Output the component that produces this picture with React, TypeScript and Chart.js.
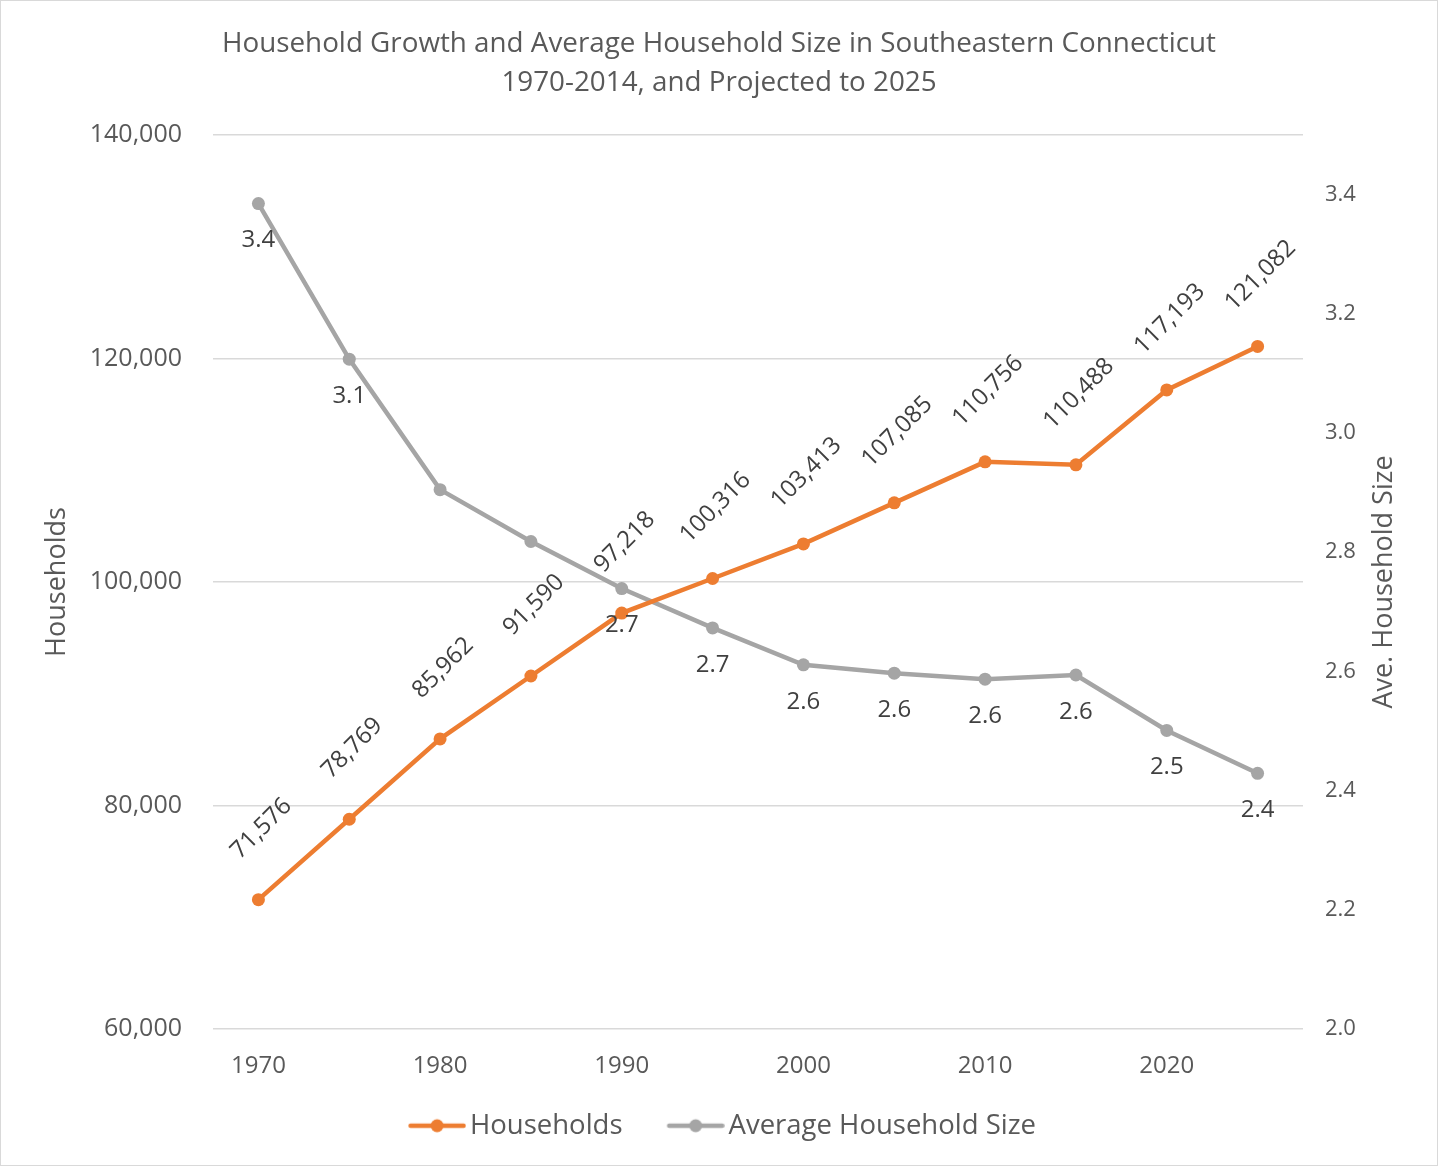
import React, { useEffect, useRef } from 'react';
import { Chart, registerables } from 'chart.js';

Chart.register(...registerables);

const years = ['1970', '1975', '1980', '1985', '1990', '1995', '2000', '2005', '2010', '2015', '2020', '2025'];
const households = [71576, 78769, 85962, 91590, 97218, 100316, 103413, 107085, 110756, 110488, 117193, 121082];
const avgSize = [3.385, 3.124, 2.905, 2.818, 2.739, 2.673, 2.611, 2.597, 2.587, 2.594, 2.501, 2.429];
const avgSizeLabelShown = [true, true, false, false, true, true, true, true, true, true, true, true];

const titleLines = [
  'Household Growth and Average Household Size in Southeastern Connecticut',
  '1970-2014, and Projected to 2025',
];
const leftAxisTitle = 'Households';
const rightAxisTitle = 'Ave. Household Size';
const seriesNames = ['Households', 'Average Household Size'];

const ORANGE = '#ED7D31';
const GRAY = '#A5A5A5';
const TEXT = '#595959';
const LABEL = '#404040';
const GRID = '#D9D9D9';
const FONT = "'Open Sans', 'Noto Sans', sans-serif";

const W = 1438;
const H = 1166;

function legendSwatch(color: string): HTMLCanvasElement {
  const c = document.createElement('canvas');
  c.width = 74;
  c.height = 18;
  const g = c.getContext('2d')!;
  const x0 = c.width - 58;
  g.strokeStyle = color;
  g.lineWidth = 4.5;
  g.lineCap = 'round';
  g.beginPath();
  g.moveTo(x0 + 2.5, 9);
  g.lineTo(c.width - 2.5, 9);
  g.stroke();
  g.fillStyle = color;
  g.beginPath();
  g.arc(x0 + 29, 9, 6.5, 0, Math.PI * 2);
  g.fill();
  return c;
}

const labelsPlugin = {
  id: 'customLabels',
  afterDatasetsDraw(chart: any) {
    const ctx = chart.ctx;
    ctx.save();
    ctx.font = `24px ${FONT}`;
    ctx.fillStyle = LABEL;
    ctx.textAlign = 'center';
    ctx.textBaseline = 'middle';
    const m0 = chart.getDatasetMeta(0);
    m0.data.forEach((pt: any, i: number) => {
      ctx.save();
      ctx.translate(pt.x + 3, pt.y - 71);
      ctx.rotate(-Math.PI / 4);
      ctx.fillText(households[i].toLocaleString('en-US'), 0, 0);
      ctx.restore();
    });
    const m1 = chart.getDatasetMeta(1);
    m1.data.forEach((pt: any, i: number) => {
      if (!avgSizeLabelShown[i]) return;
      ctx.fillText(avgSize[i].toFixed(1), pt.x, pt.y + 37);
    });
    ctx.restore();
  },
  afterDraw(chart: any) {
    const ctx = chart.ctx;
    const area = chart.chartArea;
    ctx.save();
    ctx.font = `27px ${FONT}`;
    ctx.fillStyle = TEXT;
    ctx.textAlign = 'center';
    ctx.textBaseline = 'middle';
    ctx.translate(1384, (area.top + area.bottom) / 2);
    ctx.rotate(-Math.PI / 2);
    ctx.fillText(rightAxisTitle, 0, 0);
    ctx.restore();
  },
};

export default function App() {
  const ref = useRef<HTMLCanvasElement>(null);

  useEffect(() => {
    if (!ref.current) return;
    const chart = new Chart(ref.current, {
      type: 'line',
      data: {
        labels: years,
        datasets: [
          {
            label: seriesNames[0],
            data: households,
            yAxisID: 'y',
            borderColor: ORANGE,
            backgroundColor: ORANGE,
            borderWidth: 4.5,
            pointRadius: 6.5,
            pointHoverRadius: 6.5,
            pointBackgroundColor: ORANGE,
            pointBorderWidth: 0,
            tension: 0,
          } as any,
          {
            label: seriesNames[1],
            data: avgSize,
            yAxisID: 'y1',
            borderColor: GRAY,
            backgroundColor: GRAY,
            borderWidth: 4.5,
            pointRadius: 6.5,
            pointHoverRadius: 6.5,
            pointBackgroundColor: GRAY,
            pointBorderWidth: 0,
            tension: 0,
          } as any,
        ],
      },
      options: {
        responsive: false,
        animation: false,
        layout: { padding: { left: 0, right: 0, top: 0, bottom: 16.5 } },
        elements: { point: { pointStyle: 'circle' } },
        plugins: {
          tooltip: { enabled: false },
          title: {
            display: true,
            text: titleLines,
            color: TEXT,
            font: { family: FONT, size: 27.8, weight: 'normal', lineHeight: 1.4 },
            padding: { top: 25, bottom: 32.2 },
          },
          legend: {
            display: true,
            position: 'bottom',
            labels: {
              usePointStyle: true,
              pointStyleWidth: 54.25,
              padding: 38,
              color: TEXT,
              font: { family: FONT, size: 27.5 },
              generateLabels: () => [
                {
                  text: seriesNames[0],
                  pointStyle: legendSwatch(ORANGE),
                  fillStyle: ORANGE,
                  strokeStyle: ORANGE,
                  lineWidth: 0,
                  fontColor: TEXT,
                  datasetIndex: 0,
                } as any,
                {
                  text: seriesNames[1],
                  pointStyle: legendSwatch(GRAY),
                  fillStyle: GRAY,
                  strokeStyle: GRAY,
                  lineWidth: 0,
                  fontColor: TEXT,
                  datasetIndex: 1,
                } as any,
              ],
            },
          },
        },
        scales: {
          x: {
            type: 'category',
            offset: true,
            grid: { display: false, drawTicks: false },
            border: { display: false },
            ticks: {
              autoSkip: false,
              maxRotation: 0,
              minRotation: 0,
              padding: 22.6,
              color: TEXT,
              font: { family: FONT, size: 24 },
              callback: (_v: any, i: number) => (Number(years[i]) % 10 === 0 ? years[i] : ''),
            },
            afterFit: (s: any) => {
              s.height = 45;
            },
          },
          y: {
            type: 'linear',
            position: 'left',
            min: 60000,
            max: 140000,
            grid: { color: GRID, lineWidth: 1.5, drawTicks: false },
            border: { display: false },
            ticks: {
              stepSize: 20000,
              padding: 31,
              color: TEXT,
              font: { family: FONT, size: 25 },
              callback: (v: any) => Number(v).toLocaleString('en-US'),
            },
            title: {
              display: true,
              text: leftAxisTitle,
              color: TEXT,
              font: { family: FONT, size: 27 },
              padding: { top: 40.8, bottom: 0 },
            },
            afterFit: (s: any) => {
              s.width = 213;
            },
          },
          y1: {
            type: 'linear',
            position: 'right',
            min: 2.0,
            max: 3.5,
            grid: { display: false, drawTicks: false },
            border: { display: false },
            ticks: {
              stepSize: 0.2,
              includeBounds: false,
              padding: 22,
              color: TEXT,
              font: { family: FONT, size: 22 },
              callback: (v: any) => Number(v).toFixed(1),
            },
            afterFit: (s: any) => {
              s.width = W - 1303;
            },
          },
        },
      } as any,
      plugins: [labelsPlugin],
    });
    return () => chart.destroy();
  }, []);

  return (
    <div
      style={{
        position: 'absolute',
        left: 0,
        top: 0,
        width: W,
        height: H,
        boxSizing: 'border-box',
        border: '1px solid #D9D9D9',
        background: '#FFFFFF',
      }}
    >
      <canvas ref={ref} width={W} height={H} style={{ position: 'absolute', left: -1, top: -1 }} />
    </div>
  );
}
